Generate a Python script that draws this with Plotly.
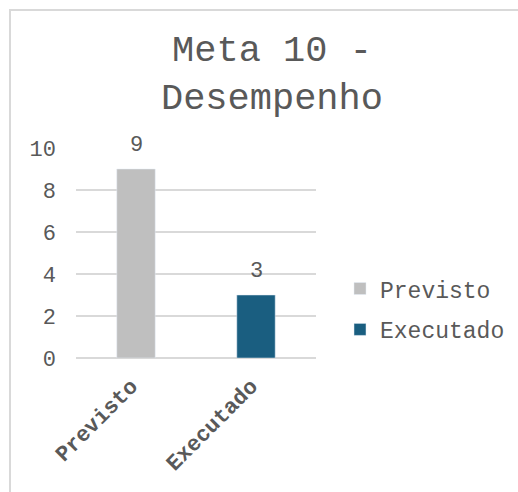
import plotly.graph_objects as go

categorias = ['Previsto', 'Executado']
previsto = [9, None]
executado = [None, 3]
rotulos = [9, 3]

fonte = 'Liberation Mono, Courier New, monospace'
cinza = '#595959'

fig = go.Figure()
fig.add_trace(go.Bar(x=categorias, y=previsto, name='Previsto', legendgroup='a',
                     marker=dict(color='#bfbfbf'), width=0.32))
fig.add_trace(go.Bar(x=categorias, y=executado, name='Executado', legendgroup='b',
                     marker=dict(color='#1a5e80'), width=0.32))

# rotulos de dados acima das barras
for c, v in zip(categorias, rotulos):
    fig.add_annotation(x=c, y=v, text=str(v), showarrow=False, yanchor='bottom',
                       yshift=9, font=dict(family=fonte, size=22, color=cinza))

# borda do grafico (estilo Excel)
fig.add_shape(type='rect', xref='paper', yref='paper', x0=-0.275, x1=3,
              y0=-1.0, y1=1.657, line=dict(color='#d9d9d9', width=2))

fig.update_layout(
    width=518, height=492,
    margin=dict(l=76, r=202, t=148, b=134, autoexpand=False),
    paper_bgcolor='white', plot_bgcolor='white',
    barmode='overlay',
    title=dict(text='Meta 10 -<br>Desempenho', x=0.525, xref='container',
               xanchor='center', y=0.876, yanchor='top',
               font=dict(family=fonte, size=37, color=cinza)),
    yaxis=dict(range=[0, 10], dtick=2, showgrid=True, gridcolor='#d9d9d9', gridwidth=1.5,
               zeroline=True, zerolinecolor='#d9d9d9', zerolinewidth=1.5, showline=False,
               ticklabelstandoff=19, automargin=False,
               tickfont=dict(family=fonte, size=22, color=cinza)),
    xaxis=dict(tickangle=-45, showline=False, showgrid=False, ticklabelstandoff=10,
               ticklabelshift=-5, automargin=False,
               tickfont=dict(family=fonte, size=22, color=cinza, weight='bold')),
    legend=dict(x=1.10, xanchor='left', y=0.433, yanchor='top', tracegroupgap=8,
                font=dict(family=fonte, size=23, color=cinza)),
    showlegend=True,
)

# tira a margem padrao do body para o grafico ocupar a janela toda
fig.write_html('out.html', config={'displayModeBar': False},
               post_script="document.body.style.margin='0';")
